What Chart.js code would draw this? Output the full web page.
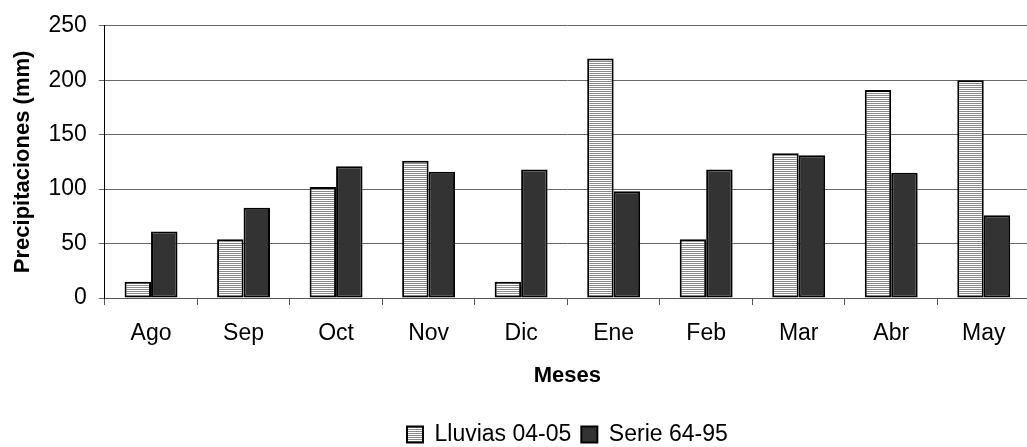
<!DOCTYPE html>
<html lang="es">
<head>
    <meta charset="UTF-8">
    <title>Precipitaciones</title>
    <script src="https://cdn.jsdelivr.net/npm/chart.js"></script>
    <style>
        body { margin: 0; overflow: hidden; background: #fff; }
        #wrap { width: 1133px; height: 456px; }
    </style>
</head>
<body>
    <div id="wrap"><canvas id="rainChart"></canvas></div>
    <script>
        const months = ["Ago", "Sep", "Oct", "Nov", "Dic", "Ene", "Feb", "Mar", "Abr", "May"];
        const lluvias0405 = [15, 54, 102, 126, 15, 220, 54, 133, 191, 200];
        const serie6495 = [61, 83, 121, 116, 118, 98, 118, 131, 115, 76];
        const yTicks = [0, 50, 100, 150, 200, 250];

        // horizontal stripes like the excel fill
        function stripes() {
            const c = document.createElement("canvas");
            c.width = 4;
            c.height = 2;
            const g = c.getContext("2d");
            g.fillStyle = "#ffffff";
            g.fillRect(0, 0, 4, 2);
            g.fillStyle = "#8c8c8c";
            g.fillRect(0, 1, 4, 1);
            return g.createPattern(c, "repeat");
        }

        Chart.defaults.font.family = "'Liberation Sans', Arial, sans-serif";
        Chart.defaults.font.size = 23;
        Chart.defaults.color = "#000";

        const ctx = document.getElementById("rainChart").getContext("2d");
        new Chart(ctx, {
            type: "bar",
            data: {
                labels: months,
                datasets: [{
                    label: "Lluvias 04-05",
                    data: lluvias0405,
                    backgroundColor: stripes(),
                    borderColor: "#000",
                    borderWidth: 2,
                    borderSkipped: false
                }, {
                    label: "Serie 64-95",
                    data: serie6495,
                    backgroundColor: "#333333",
                    borderColor: "#000",
                    borderWidth: 2,
                    borderSkipped: false
                }]
            },
            options: {
                responsive: true,
                maintainAspectRatio: false,
                animation: false,
                layout: { padding: { top: 11, right: 103, bottom: 0, left: 10 } },
                datasets: { bar: { categoryPercentage: 0.572, barPercentage: 1.0 } },
                scales: {
                    x: {
                        offset: true,
                        grid: { offset: true, drawOnChartArea: false, color: "#555", tickLength: 7 },
                        border: { color: "#555" },
                        ticks: { padding: 15 },
                        title: { display: true, text: "Meses", font: { weight: "bold", size: 22 }, padding: { top: 0, bottom: 24 } }
                    },
                    y: {
                        min: 0,
                        max: 250,
                        afterBuildTicks: axis => { axis.ticks = yTicks.map(v => ({ value: v })); },
                        grid: { color: "#666", tickLength: 6 },
                        border: { color: "#000" },
                        ticks: { padding: 12 },
                        title: { display: true, text: "Precipitaciones (mm)", font: { weight: "bold", size: 22 }, padding: { top: 0, bottom: 0 } }
                    }
                },
                plugins: {
                    legend: {
                        position: "bottom",
                        fullSize: false,
                        labels: { boxWidth: 16, boxHeight: 16, padding: 10 }
                    },
                    tooltip: { enabled: false }
                }
            }
        });
    </script>
</body>
</html>
